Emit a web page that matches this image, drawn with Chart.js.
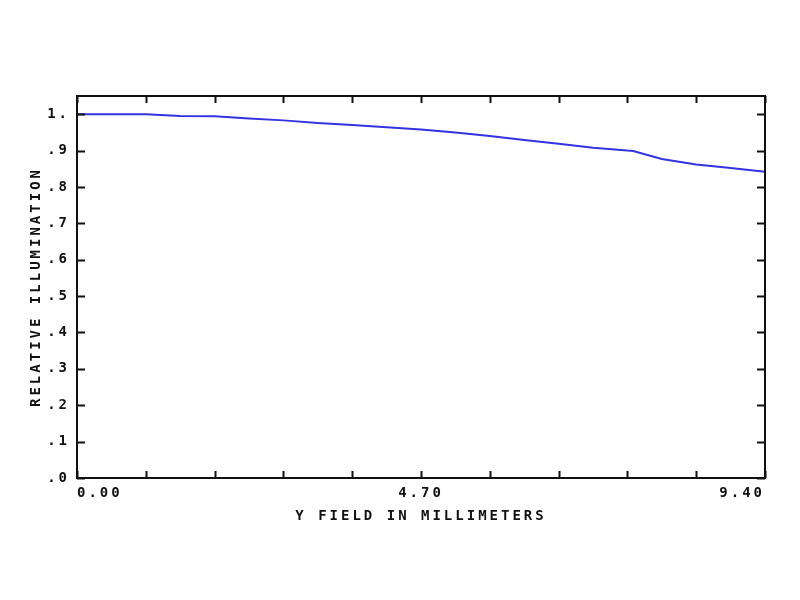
<!DOCTYPE html>
<html>
<head>
<meta charset="utf-8">
<script src="https://cdn.jsdelivr.net/npm/chart.js@4/dist/chart.umd.min.js"></script>
<style>
  html, body { margin: 0; padding: 0; background: #fff; }
  #wrap { width: 800px; height: 600px; }
</style>
</head>
<body>
<div id="wrap"><canvas id="c" width="800" height="600"></canvas></div>
<script>
// Field position (mm)
const fieldMM = [0.00, 0.47, 0.94, 1.41, 1.88, 2.35, 2.82, 3.29, 3.76, 4.23, 4.70,
                 5.17, 5.64, 6.11, 6.58, 7.05, 7.52, 7.60, 7.99, 8.46, 8.93, 9.40];
// Relative illumination
const relIllum = [1.000, 1.000, 1.000, 0.995, 0.994, 0.988, 0.983, 0.976, 0.970, 0.964, 0.958,
                  0.950, 0.940, 0.929, 0.919, 0.908, 0.900, 0.899, 0.877, 0.862, 0.852, 0.842];

const xTickValues = [0, 0.94, 1.88, 2.82, 3.76, 4.70, 5.64, 6.58, 7.52, 8.46, 9.40];
const xTickLabels = ['0.00', '', '', '', '', '4.70', '', '', '', '', '9.40'];
const yTickValues = [0, 0.1, 0.2, 0.3, 0.4, 0.5, 0.6, 0.7, 0.8, 0.9, 1.0];
const yTickLabels = ['.0', '.1', '.2', '.3', '.4', '.5', '.6', '.7', '.8', '.9', '1.'];

const xTitle = 'Y FIELD IN MILLIMETERS';
const yTitle = 'RELATIVE ILLUMINATION';

const FONT = '"DejaVu Sans Mono", "Liberation Mono", monospace';

const framePlugin = {
  id: 'framePlugin',
  beforeDraw(chart) {
    chart.ctx.letterSpacing = '3px';
  },
  afterDraw(chart) {
    const ctx = chart.ctx;
    const { left, right, top, bottom } = chart.chartArea;
    const xs = chart.scales.x, ys = chart.scales.y;
    ctx.save();
    ctx.letterSpacing = '0px';
    ctx.strokeStyle = '#111';
    ctx.lineWidth = 2;
    ctx.strokeRect(left, top, right - left, bottom - top);
    ctx.beginPath();
    xTickValues.forEach(v => {
      const px = Math.round(xs.getPixelForValue(v)) + 0.5;
      ctx.moveTo(px, bottom); ctx.lineTo(px, bottom - 7);
      ctx.moveTo(px, top); ctx.lineTo(px, top + 7);
    });
    yTickValues.forEach(v => {
      const py = Math.round(ys.getPixelForValue(v)) + 0.5;
      ctx.moveTo(left, py); ctx.lineTo(left + 8, py);
      ctx.moveTo(right, py); ctx.lineTo(right - 8, py);
    });
    ctx.stroke();
    ctx.restore();
  }
};

new Chart(document.getElementById('c'), {
  type: 'line',
  data: {
    datasets: [{
      data: fieldMM.map((x, i) => ({ x: x, y: relIllum[i] })),
      borderColor: '#3333e0',
      borderWidth: 2,
      pointRadius: 0,
      tension: 0,
      fill: false
    }]
  },
  options: {
    responsive: false,
    animation: false,
    devicePixelRatio: 1,
    layout: { padding: { left: 0, right: 35, top: 96, bottom: 62 } },
    plugins: { legend: { display: false }, tooltip: { enabled: false } },
    scales: {
      x: {
        type: 'linear',
        min: 0, max: 9.4,
        afterFit: s => { s.height = 60; },
        afterBuildTicks: s => { s.ticks = xTickValues.map(v => ({ value: v })); },
        grid: { display: false, drawTicks: false },
        border: { display: false },
        ticks: {
          autoSkip: false, maxRotation: 0, padding: 7, align: 'inner',
          color: '#111', font: { family: FONT, size: 14, weight: 'bold' },
          callback: (v, i) => xTickLabels[i]
        },
        title: {
          display: true, text: xTitle, color: '#111',
          font: { family: FONT, size: 14, weight: 'bold' },
          padding: { top: 0, bottom: 13 }
        }
      },
      y: {
        type: 'linear',
        min: 0, max: 1.05,
        afterFit: s => { s.width = 77; },
        afterBuildTicks: s => { s.ticks = yTickValues.map(v => ({ value: v })); },
        grid: { display: false, drawTicks: false },
        border: { display: false },
        ticks: {
          autoSkip: false, padding: 7,
          color: '#111', font: { family: FONT, size: 14, weight: 'bold' },
          callback: (v, i) => yTickLabels[i]
        },
        title: {
          display: true, text: yTitle, color: '#111',
          font: { family: FONT, size: 14, weight: 'bold' },
          padding: { top: 28, bottom: 0 }
        }
      }
    }
  },
  plugins: [framePlugin]
});
</script>
</body>
</html>
